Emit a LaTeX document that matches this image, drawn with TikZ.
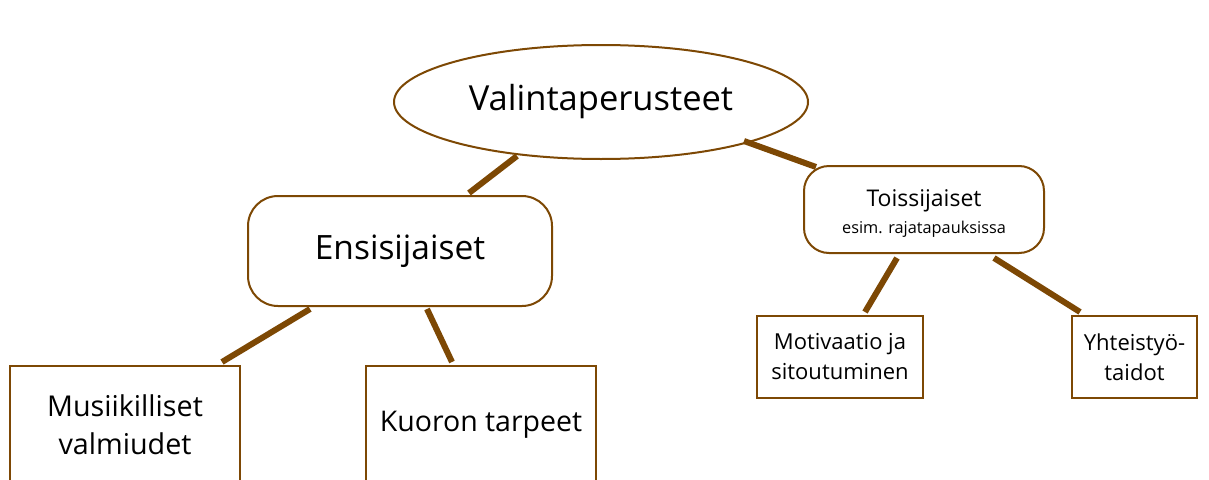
\documentclass[tikz,border=0pt]{standalone}
\usepackage{fontspec}
\setmainfont{Open Sans}
\usetikzlibrary{shapes.geometric,calc}
\definecolor{brn}{RGB}{125,72,4}
\begin{document}
\begin{tikzpicture}[x=1pt,y=-1pt,
  shp/.style={draw=brn,line width=2pt,fill=white,inner sep=0pt,align=center,text=black},
  rbox/.style={shp,rectangle,rounded corners=#1},
  sbox/.style={shp,rectangle},
  conn/.style={draw=brn,line width=6pt}]
\useasboundingbox (0,0) rectangle (1209,479);
\clip (0,0) rectangle (1209,479);
\fill[white] (0,0) rectangle (1209,479);
\node[shp,ellipse,minimum width=414pt,minimum height=114pt,font=\fontsize{34.5}{40}\selectfont] (ell) at (601,102)
  {Valintaperusteet};
\node[rbox=30pt,minimum width=304pt,minimum height=110pt,font=\fontsize{33.5}{40}\selectfont] (ens) at (400,251)
  {Ensisijaiset};
\node[rbox=25pt,minimum width=240pt,minimum height=87pt,font=\fontsize{23}{26}\selectfont] (toi) at (924,209.5)
  {\rule{0pt}{25pt}Toissijaiset\\[1pt]{\fontsize{16.3}{18}\selectfont esim. rajatapauksissa}};
\node[sbox,minimum width=230pt,minimum height=118pt,font=\fontsize{28.7}{38}\selectfont] (mus) at (125,425)
  {Musiikilliset\\valmiudet};
\node[sbox,minimum width=230pt,minimum height=118pt,font=\fontsize{28.5}{38}\selectfont] (kuo) at (481,425)
  {Kuoron tarpeet};
\node[sbox,minimum width=166pt,minimum height=82pt,font=\fontsize{22}{30}\selectfont] (mot) at (840,357)
  {Motivaatio ja\\sitoutuminen};
\node[sbox,minimum width=125pt,minimum height=82pt,font=\fontsize{22}{30}\selectfont] (yht) at (1134.5,357)
  {Yhteistyö-\\taidot};
\draw[conn] ($(ell.center)+(-84,54)$) -- ($(ens.north)+(69,-2)$);
\draw[conn] ($(ell.center)+(143,39)$) -- ($(toi.north west)+(13,2)$);
\draw[conn] ($(ens.south)+(-90,2)$) -- ($(mus.north)+(97,-3)$);
\draw[conn] ($(ens.south)+(27,2)$) -- ($(kuo.north)+(-29,-3)$);
\draw[conn] ($(toi.south)+(-27,4)$) -- ($(mot.north)+(25,-3)$);
\draw[conn] ($(toi.south)+(70,4)$) -- ($(yht.north)+(-54.5,-3)$);
\end{tikzpicture}
\end{document}
